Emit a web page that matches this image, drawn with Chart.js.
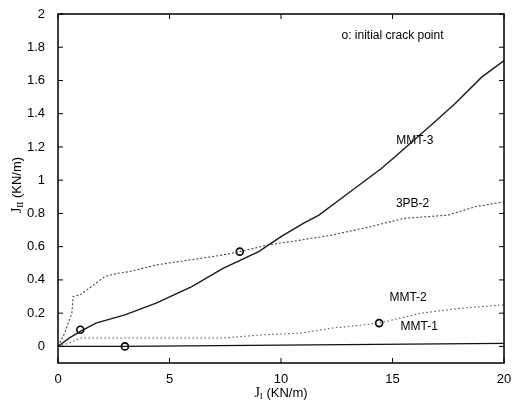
<!DOCTYPE html>
<html>
<head>
<meta charset="utf-8">
<script src="https://cdn.jsdelivr.net/npm/chart.js@4.4.0/dist/chart.umd.min.js"></script>
<style>
  html, body { margin: 0; padding: 0; background: #fff; }
  #wrap { width: 514px; height: 403px; }
</style>
</head>
<body>
<div id="wrap"><canvas id="myChart" width="514" height="403"></canvas></div>
<script>
'use strict';

// tick labels
const xTicks = [0, 5, 10, 15, 20];
const yTicks = [0, 0.2, 0.4, 0.6, 0.8, 1, 1.2, 1.4, 1.6, 1.8, 2];

// MMT-3 (solid)
const mmt3X = [0, 0.5, 1, 1.7, 3, 4.4, 6, 7.4, 9, 10, 11, 11.7, 13, 14.5, 15.1, 16.8, 17.8, 19, 20];
const mmt3Y = [0, 0.05, 0.09, 0.14, 0.19, 0.26, 0.36, 0.47, 0.57, 0.66, 0.74, 0.79, 0.92, 1.07, 1.14, 1.34, 1.46, 1.62, 1.72];

// 3PB-2 (dotted)
const pb2X = [0, 0.3, 0.62, 0.68, 1.0, 1.5, 2.1, 2.7, 3.2, 4.4, 5.9, 7.4, 8.15, 9.4, 10.9, 12.3, 14, 15.5, 17.5, 18.7, 20];
const pb2Y = [0, 0.08, 0.2, 0.3, 0.31, 0.36, 0.42, 0.44, 0.45, 0.49, 0.52, 0.55, 0.57, 0.61, 0.64, 0.67, 0.72, 0.77, 0.79, 0.84, 0.87];

// MMT-2 (dotted)
const mmt2X = [0, 0.5, 1, 3, 6, 7.4, 9.2, 10.9, 12.3, 14.4, 16.3, 18.1, 20];
const mmt2Y = [0, 0.02, 0.05, 0.05, 0.05, 0.05, 0.07, 0.08, 0.11, 0.14, 0.2, 0.23, 0.25];

// MMT-1 (solid, near zero)
const mmt1X = [0, 3, 10, 20];
const mmt1Y = [0, 0, 0.008, 0.018];

// initial crack points
const crackX = [1.0, 8.15, 14.4, 3.0];
const crackY = [0.1, 0.57, 0.14, 0.0];

// curve labels
const labelText = ['MMT-3', '3PB-2', 'MMT-2', 'MMT-1'];
const labelX = [16.0, 15.9, 15.7, 16.2];
const labelY = [1.24, 0.86, 0.29, 0.12];

const toPoints = function (xs, ys) {
  return xs.map((x, i) => ({ x: x, y: ys[i] }));
};

const SANS = '"Liberation Sans", Arial, sans-serif';
const SERIF = '"Liberation Serif", "Times New Roman", serif';

// draws a J with a roman subscript, then the unit
const drawJ = function (c, x, y, sub) {
  const rest = ' (KN/m)';
  c.font = '14px ' + SERIF;
  const wJ = c.measureText('J').width;
  c.font = '9px ' + SERIF;
  const wS = c.measureText(sub).width;
  c.font = '13px ' + SANS;
  const wR = c.measureText(rest).width;
  let p = x - (wJ + wS + wR) / 2;
  c.textAlign = 'left';
  c.textBaseline = 'alphabetic';
  c.font = '14px ' + SERIF;
  c.fillText('J', p, y);
  p += wJ;
  c.font = '9px ' + SERIF;
  c.fillText(sub, p, y + 2);
  p += wS;
  c.font = '13px ' + SANS;
  c.fillText(rest, p, y);
};

const framePlugin = {
  id: 'frame',
  afterDraw(chart) {
    const c = chart.ctx;
    const a = chart.chartArea;
    const xs = chart.scales.x;
    const ys = chart.scales.y;
    c.save();
    c.strokeStyle = '#000';
    c.lineWidth = 1.5;
    c.strokeRect(a.left, a.top, a.right - a.left, a.bottom - a.top);

    // inward ticks on all four sides
    c.lineWidth = 1;
    c.beginPath();
    xTicks.forEach(v => {
      const px = xs.getPixelForValue(v);
      c.moveTo(px, a.bottom); c.lineTo(px, a.bottom - 5);
      c.moveTo(px, a.top); c.lineTo(px, a.top + 5);
    });
    yTicks.forEach(v => {
      const py = ys.getPixelForValue(v);
      c.moveTo(a.left, py); c.lineTo(a.left + 5, py);
      c.moveTo(a.right, py); c.lineTo(a.right - 5, py);
    });
    c.stroke();

    // annotations
    c.fillStyle = '#000';
    c.font = '12px ' + SANS;
    c.textAlign = 'center';
    c.textBaseline = 'middle';
    c.fillText('o: initial crack point', xs.getPixelForValue(15.0), ys.getPixelForValue(1.87));
    labelText.forEach((t, i) => {
      c.fillText(t, xs.getPixelForValue(labelX[i]), ys.getPixelForValue(labelY[i]));
    });

    // axis titles
    drawJ(c, 281, 397, 'I');
    c.translate(21, 185);
    c.rotate(-Math.PI / 2);
    drawJ(c, 0, 0, 'II');
    c.restore();
  }
};

const ctx = document.getElementById('myChart').getContext('2d');

const myChart = new Chart(ctx, {
  type: 'scatter',
  data: {
    datasets: [
      {
        label: 'MMT-1',
        data: toPoints(mmt1X, mmt1Y),
        showLine: true,
        borderColor: '#111',
        borderWidth: 1.3,
        pointRadius: 0
      },
      {
        label: 'MMT-2',
        data: toPoints(mmt2X, mmt2Y),
        showLine: true,
        borderColor: '#555',
        borderWidth: 1.1,
        borderDash: [1.5, 2.5],
        pointRadius: 0
      },
      {
        label: '3PB-2',
        data: toPoints(pb2X, pb2Y),
        showLine: true,
        borderColor: '#444',
        borderWidth: 1.1,
        borderDash: [2, 2],
        pointRadius: 0
      },
      {
        label: 'MMT-3',
        data: toPoints(mmt3X, mmt3Y),
        showLine: true,
        borderColor: '#1a1a1a',
        borderWidth: 1.4,
        pointRadius: 0
      },
      {
        label: 'crack',
        data: toPoints(crackX, crackY),
        showLine: false,
        pointStyle: 'circle',
        pointRadius: 3.5,
        pointBorderWidth: 1.6,
        pointBorderColor: '#000',
        pointBackgroundColor: 'rgba(255,255,255,0)'
      }
    ]
  },
  options: {
    responsive: false,
    animation: false,
    events: [],
    layout: { padding: { left: 0, right: 10, top: 14, bottom: 0 } },
    plugins: {
      legend: { display: false },
      tooltip: { enabled: false }
    },
    scales: {
      x: {
        type: 'linear',
        min: 0,
        max: 20,
        afterBuildTicks: axis => { axis.ticks = xTicks.map(v => ({ value: v })); },
        afterFit: axis => {
          axis.height = 40;
          axis.paddingLeft = 0;
          axis.paddingRight = 0;
        },
        grid: { display: false },
        border: { display: false },
        ticks: {
          color: '#000',
          font: { family: SANS, size: 13 },
          padding: 1,
          maxRotation: 0,
          callback: v => String(v)
        }
      },
      y: {
        type: 'linear',
        min: -0.1,
        max: 2,
        afterBuildTicks: axis => { axis.ticks = yTicks.map(v => ({ value: v })); },
        afterFit: axis => {
          axis.width = 58;
          axis.paddingTop = 0;
          axis.paddingBottom = 0;
        },
        grid: { display: false },
        border: { display: false },
        ticks: {
          color: '#000',
          font: { family: SANS, size: 13 },
          padding: 5,
          callback: v => String(Math.round(v * 10) / 10)
        }
      }
    }
  },
  plugins: [framePlugin]
});
</script>
</body>
</html>
